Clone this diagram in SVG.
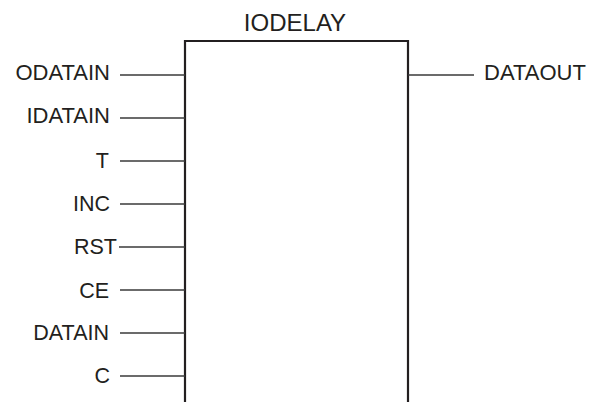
<svg xmlns="http://www.w3.org/2000/svg" width="591" height="402" viewBox="0 0 591 402">
<style>
text{font-family:"Liberation Sans",Arial,sans-serif;font-size:21.5px;fill:#231f20}
.l{text-anchor:end}
.m{font-size:22px}
.w{stroke:#3a3a3a;stroke-width:1.3;fill:none}
.box{stroke:#231f20;stroke-width:2.2;fill:#fff}
</style>
<rect width="591" height="402" fill="#fff"/>
<g id="iodelay">
<path class="box" d="M185,403 V41 H408 V403"/>
<text x="295" y="31" text-anchor="middle" style="font-size:24px">IODELAY</text>
</g>
<g id="connectors">
<line class="w" x1="120" y1="75" x2="185" y2="75"/>
<line class="w" x1="120" y1="118" x2="185" y2="118"/>
<line class="w" x1="120" y1="161" x2="185" y2="161"/>
<line class="w" x1="120" y1="204" x2="185" y2="204"/>
<line class="w" x1="119" y1="247" x2="185" y2="247"/>
<line class="w" x1="120" y1="290" x2="185" y2="290"/>
<line class="w" x1="120" y1="333" x2="185" y2="333"/>
<line class="w" x1="120" y1="376" x2="185" y2="376"/>
<line class="w" x1="408" y1="75" x2="474" y2="75"/>
</g>
<g id="port-odatain"><text class="l m" x="110" y="80">ODATAIN</text></g>
<g id="port-idatain"><text class="l m" x="110" y="123">IDATAIN</text></g>
<g id="port-t"><text class="l" x="109" y="168">T</text></g>
<g id="port-inc"><text class="l" x="110" y="211">INC</text></g>
<g id="port-rst"><text class="l" x="117" y="254">RST</text></g>
<g id="port-ce"><text class="l" x="109" y="297.5">CE</text></g>
<g id="port-datain"><text class="l" x="109" y="340">DATAIN</text></g>
<g id="port-c"><text class="l" x="110" y="383">C</text></g>
<g id="port-dataout"><text class="m" x="484" y="80">DATAOUT</text></g>
</svg>
